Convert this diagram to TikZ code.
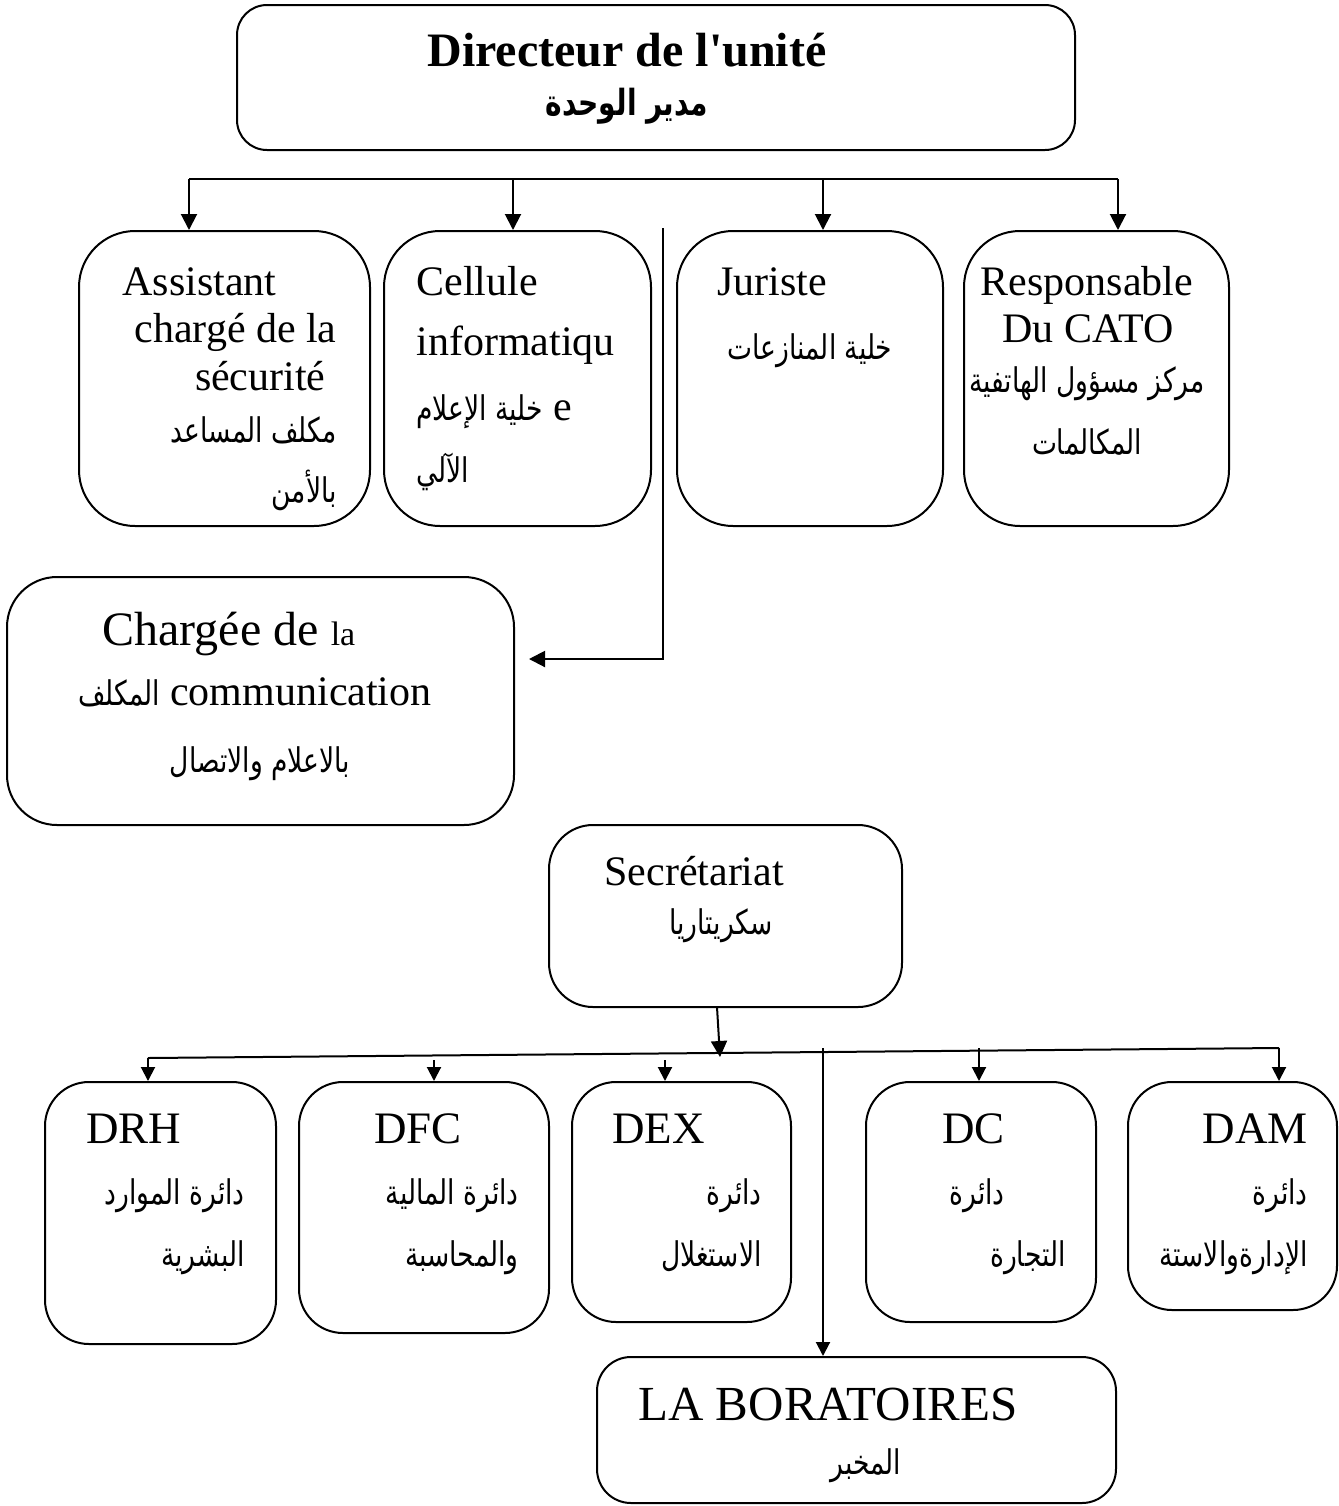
\documentclass[tikz,border=0pt]{standalone}
\usepackage{fontspec}
\setmainfont{Liberation Serif}
\newfontfamily\arabicfont[Script=Arabic,FakeStretch=0.78]{DejaVu Sans}
\TeXXeTstate=1
\usetikzlibrary{arrows.meta,fit}
% Arabic text, right to left
\newcommand\AR[1]{{\arabicfont\beginR #1\endR}}
% Arabic words inside a Latin line
\newcommand\ART[1]{{\fontsize{17}{20}\arabicfont\beginR #1\endR}}

\begin{document}
\begin{tikzpicture}[x=0.5pt,y=-0.5pt,
  box/.style={draw,line width=1pt,inner sep=0pt},
  ln/.style={line width=1pt},
  arr/.style={line width=1pt,-{Triangle[width=8pt,length=8pt]}},
  arrs/.style={line width=1pt,-{Triangle[width=7pt,length=7pt]}},
  lat/.style={inner sep=0pt,font=\fontsize{21}{25}\selectfont},
  latb/.style={inner sep=0pt,font=\fontsize{22.5}{26}\selectfont},
  ara/.style={inner sep=0pt,font=\fontsize{17}{20}\selectfont},
]
\useasboundingbox (0,0) rectangle (1339,1506);

% ---- boxes ----
\node[box,rounded corners=15pt,fit={(237,5) (1075,150)}] (dir) {};
\node[box,rounded corners=28pt,fit={(79,231) (370,526)}] (assist) {};
\node[box,rounded corners=28pt,fit={(384,231) (651,526)}] (cell) {};
\node[box,rounded corners=28pt,fit={(677,231) (943,526)}] (jur) {};
\node[box,rounded corners=28pt,fit={(964,231) (1229,526)}] (resp) {};
\node[box,rounded corners=25pt,fit={(7,577) (514,825)}] (charge) {};
\node[box,rounded corners=22pt,fit={(549,825) (902,1007)}] (secr) {};
\node[box,rounded corners=22pt,fit={(45,1082) (276,1344)}] (drh) {};
\node[box,rounded corners=22pt,fit={(299,1082) (549,1333)}] (dfc) {};
\node[box,rounded corners=22pt,fit={(572,1082) (791,1322)}] (dex) {};
\node[box,rounded corners=22pt,fit={(866,1082) (1096,1322)}] (dc) {};
\node[box,rounded corners=22pt,fit={(1128,1082) (1337,1310)}] (dam) {};
\node[box,rounded corners=17pt,fit={(597,1357) (1116,1503)}] (lab) {};

% ---- top connectors ----
\coordinate (tl) at (189,179);
\coordinate (tr) at (1118,179);
\coordinate (t2) at (513,179);
\coordinate (t3) at (823,179);
\draw[ln] (tl) -- (tr);
\draw[arr] (tl) -- (tl |- assist.north);
\draw[arr] (t2) -- (t2 |- cell.north);
\draw[arr] (t3) -- (t3 |- jur.north);
\draw[arr] (tr) -- (tr |- resp.north);

\coordinate (vtop) at (663,228);
\coordinate (ctip) at (529,659);
\draw[arr] (vtop) |- (ctip);

% ---- lower connectors ----
\coordinate (sfrom) at (717,1007);
\coordinate (sto) at (720,1057);
\draw[arr] (sfrom) -- (sto);
\coordinate (bl) at (148,1058);
\coordinate (br) at (1279,1048);
\draw[ln] (bl) -- (br);
\draw[arrs] (bl) -- (bl |- drh.north);
\draw[arrs] (br) -- (br |- dam.north);
\coordinate (bdfc) at (434,1060);
\coordinate (bdex) at (665,1060);
\coordinate (bdc) at (979,1048);
\coordinate (blab) at (823,1048);
\draw[arrs] (bdfc) -- (bdfc |- dfc.north);
\draw[arrs] (bdex) -- (bdex |- dex.north);
\draw[arrs] (bdc) -- (bdc |- dc.north);
\draw[arrs] (blab) -- (blab |- lab.north);

% ---- texts ----
\node[anchor=base,inner sep=0pt,font=\fontsize{24}{28}\selectfont\bfseries] (dirfr) at (627,66) {Directeur de l\textquotesingle unité};
\node[anchor=base,inner sep=0pt,font=\fontsize{18}{21}\selectfont\bfseries] (dirar) at (627,115) {\AR{مدير الوحدة}};

\node[lat,anchor=base west] (as1) at (122,295) {Assistant};
\node[lat,anchor=base east] (as2) at (337,342) {chargé de la};
\node[lat,anchor=base east] (as3) at (326,390) {sécurité};
\node[ara,anchor=base east] (as4) at (337,442) {\AR{مكلف المساعد}};
\node[ara,anchor=base east] (as5) at (337,502) {\AR{بالأمن}};

\node[lat,anchor=base west] (ce1) at (416,295) {Cellule};
\node[lat,anchor=base west] (ce2) at (416,355) {informatiqu};
\node[lat,anchor=base west] (ce3) at (416,420) {\ART{خلية الإعلام} e};
\node[ara,anchor=base west] (ce4) at (416,482) {\AR{الآلي}};

\node[lat,anchor=base west] (ju1) at (717,295) {Juriste};
\node[ara,anchor=base] (ju2) at (810,359) {\AR{خلية المنازعات}};

\node[lat,anchor=base] (re1) at (1087,295) {Responsable};
\node[lat,anchor=base] (re2) at (1088,342) {Du CATO};
\node[ara,anchor=base] (re3) at (1087,392) {\AR{مركز مسؤول الهاتفية}};
\node[ara,anchor=base] (re4) at (1087,454) {\AR{المكالمات}};

\node[inner sep=0pt,anchor=base west] (ch1) at (102,645) {\fontsize{24}{28}\selectfont Chargée de \fontsize{17}{20}\selectfont la};
\node[lat,anchor=base east] (ch2) at (432,705) {\ART{المكلف} communication};
\node[ara,anchor=base] (ch3) at (260,772) {\AR{بالاعلام والاتصال}};

\node[lat,anchor=base west] (se1) at (604,885) {Secrétariat};
\node[ara,anchor=base east] (se2) at (773,934) {\AR{سكريتاريا}};

\node[latb,anchor=base west] (drh1) at (86,1143) {DRH};
\node[ara,anchor=base east] (drh2) at (245,1204) {\AR{دائرة الموارد}};
\node[ara,anchor=base east] (drh3) at (245,1266) {\AR{البشرية}};

\node[latb,anchor=base west] (dfc1) at (374,1143) {DFC};
\node[ara,anchor=base east] (dfc2) at (519,1204) {\AR{دائرة المالية}};
\node[ara,anchor=base east] (dfc3) at (519,1266) {\AR{والمحاسبة}};

\node[latb,anchor=base west] (dex1) at (612,1143) {DEX};
\node[ara,anchor=base east] (dex2) at (762,1204) {\AR{دائرة}};
\node[ara,anchor=base east] (dex3) at (762,1266) {\AR{الاستغلال}};

\node[latb,anchor=base west] (dc1) at (942,1143) {DC};
\node[ara,anchor=base east] (dc2) at (1005,1204) {\AR{دائرة}};
\node[ara,anchor=base east] (dc3) at (1066,1266) {\AR{التجارة}};

\node[latb,anchor=base east] (dam1) at (1308,1143) {DAM};
\node[ara,anchor=base east] (dam2) at (1308,1204) {\AR{دائرة}};
\node[ara,anchor=base east] (dam3) at (1308,1266) {\AR{الإدارةوالاستة}};

\node[inner sep=0pt,anchor=base west,font=\fontsize{24.5}{29}\selectfont] (lab1) at (638,1420) {LA BORATOIRES};
\node[ara,anchor=base] (lab2) at (866,1474) {\AR{المخبر}};
\end{tikzpicture}
\end{document}
